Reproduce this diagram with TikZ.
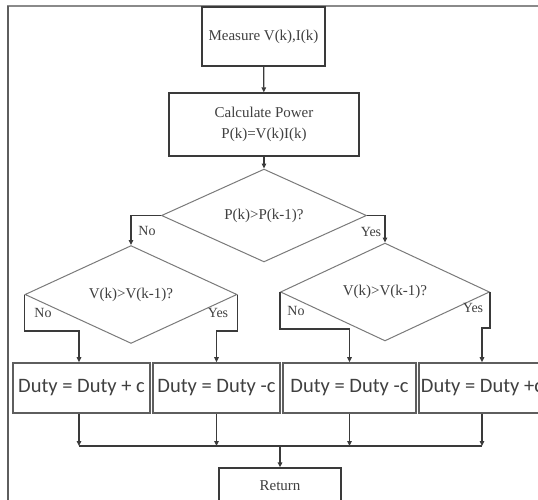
\documentclass[tikz,border=0pt]{standalone}
\usepackage{fontspec}
\setmainfont{Liberation Serif}
\newfontfamily\dutyfont{Carlito}
\usetikzlibrary{shapes.geometric,arrows.meta,calc}
\definecolor{lin}{HTML}{3A3A3A}
\definecolor{dlin}{HTML}{7A7A7A}
\definecolor{blin}{HTML}{5E5E5E}
\definecolor{txt}{HTML}{404040}
\definecolor{frm}{HTML}{8A8A8A}
\begin{document}
\begin{tikzpicture}[x=1pt,y=-1pt,
  line/.style={draw=lin, line width=1.3pt},
  arr/.style={line, -{Triangle[length=5pt,width=4.5pt]}},
  box/.style={draw=lin, line width=1.3pt, rectangle, inner sep=0pt, text=txt,
    font=\fontsize{15}{21}\selectfont, align=center},
  dia/.style={draw=dlin, line width=1pt, diamond, inner sep=0pt, text=txt,
    font=\fontsize{15}{18}\selectfont},
  dbox/.style={draw=blin, line width=1.6pt, rectangle, inner sep=0pt,
    minimum height=50pt, text=txt, font=\dutyfont\fontsize{20.5}{24}\selectfont},
  lab/.style={text=txt, font=\fontsize{14}{16}\selectfont, inner sep=0pt}]
\useasboundingbox (0,0) rectangle (538,499);
\fill[white] (0,0) rectangle (538,499);
% frame
\draw[frm, line width=2pt] (8,505) -- (8,6) -- (545,6);
\draw[blin, line width=1.6pt] (8,505) -- (8,6);

% nodes
\node[box, minimum width=123pt, minimum height=59pt] (m) at (263.5,36.5) {Measure V(k),I(k)};
\node[box, minimum width=190pt, minimum height=63pt] (c) at (264,124.5) {Calculate Power\\P(k)=V(k)I(k)};
\node[dia, minimum width=205pt, minimum height=65pt] (dP) at (264,215.5) {P(k)>P(k-1)?};
\node[dia, minimum width=212pt, minimum height=65pt] (dL) at (131,294.5) {V(k)>V(k-1)?};
\node[dia, minimum width=209pt, minimum height=60pt] (dR) at (385,292) {V(k)>V(k-1)?};

\node[dbox, minimum width=137pt] (b1) at (81.5,388) {Duty = Duty + c};
\node[dbox, minimum width=127pt] (b2) at (216.5,388) {Duty = Duty -c};
\node[dbox, minimum width=133pt] (b3) at (349.5,388) {Duty = Duty -c};
\node[dbox, minimum width=126pt] (b4) at (482,388) {Duty = Duty +c};

\node[box, minimum width=122pt, minimum height=35pt] (ret) at (280,485.5) {Return};

% labels
\node[lab] (lNo) at (147,231) {No};
\node[lab] (lYes) at (371,232) {Yes};
\node[lab] (lLNo) at (43,313) {No};
\node[lab] (lLYes) at (218,313) {Yes};
\node[lab] (lRNo) at (296,311) {No};
\node[lab] (lRYes) at (473,308) {Yes};

% connectors
\draw[arr] (m) -- (c);
\draw[arr] (c) -- (dP);
\draw[arr] (dP.west) -| (dL.north);
\draw[arr] (dP.east) -| (dR.north);
\draw[arr] (dL.west) -- ++(0,36.5) -| ([xshift=-2.5pt]b1.north);
\draw[arr] (dL.east) -- ++(0,36.5) -| (b2.north);
\draw[arr] (dR.west) -- ++(0,37) -| (b3.north);
\draw[arr] (dR.east) -- ++(0,36) -| (b4.north);

\coordinate (j) at (280,446);
\draw[line] ([xshift=-2.5pt]b1.south |- j) -- (b4.south |- j);
\draw[arr] ([xshift=-2.5pt]b1.south) -- ([xshift=-2.5pt]b1.south |- j);
\draw[arr] (b2.south) -- (b2.south |- j);
\draw[arr] (b3.south) -- (b3.south |- j);
\draw[arr] (b4.south) -- (b4.south |- j);
\draw[arr] (j) -- (ret.north);
\end{tikzpicture}
\end{document}
